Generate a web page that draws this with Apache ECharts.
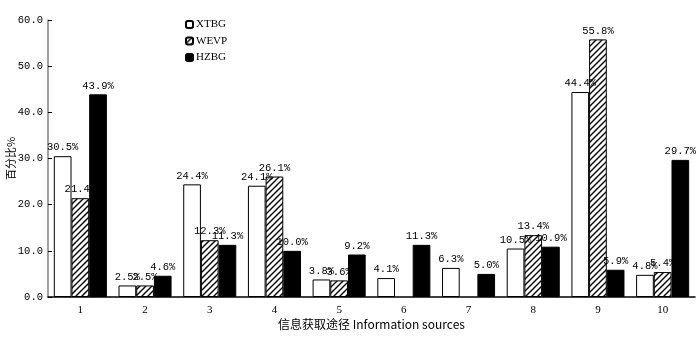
<!DOCTYPE html>
<html><head><meta charset="utf-8">
<script src="https://cdn.jsdelivr.net/npm/echarts@6/dist/echarts.min.js"></script>
<style>html,body{margin:0;padding:0;background:#fff}#c{width:700px;height:345px}</style>
</head><body><div id="c"></div>
<script>
const categories = ['1','2','3','4','5','6','7','8','9','10'];
const xtbg = [30.5, 2.5, 24.4, 24.1, 3.8, 4.1, 6.3, 10.5, 44.4, 4.8];
const wevp = [21.4, 2.5, 12.3, 26.1, 3.6, null, null, 13.4, 55.8, 5.4];
const hzbg = [43.9, 4.6, 11.3, 10.0, 9.2, 11.3, 5.0, 10.9, 5.9, 29.7];
const yTicks = [0, 10, 20, 30, 40, 50, 60];

const pc = document.createElement('canvas');
pc.width = 6; pc.height = 6;
const g = pc.getContext('2d');
g.fillStyle = '#fff'; g.fillRect(0,0,6,6);
g.strokeStyle = '#000'; g.lineWidth = 1.4;
g.beginPath();
g.moveTo(-1,7); g.lineTo(7,-1);
g.moveTo(-4,4); g.lineTo(4,-4);
g.moveTo(2,10); g.lineTo(10,2);
g.stroke();

const mono = 'Liberation Mono';
const lbl = {show:true, position:'top', distance:3, color:'#000', fontFamily:mono, fontSize:10.5,
  formatter: p => p.value == null ? '' : p.value.toFixed(1) + '%'};
const base = {type:'bar', barGap:'0%', barCategoryGap:'18%', label:lbl, animation:false};

const chart = echarts.init(document.getElementById('c'));
chart.setOption({
  backgroundColor:'#fff',
  grid:{left:48, right:5, top:20, bottom:48, containLabel:false, outerBoundsMode:'none'},
  legend:{orient:'vertical', left:185, top:19, padding:0, itemWidth:7, itemHeight:7, itemGap:5.5,
    textStyle:{fontFamily:'Liberation Serif', fontSize:11, color:'#000', padding:[0,0,0,-2]},
    data:['XTBG','WEVP','HZBG']},
  xAxis:{type:'category', data:categories,
    name:'信息获取途径 Information sources', nameLocation:'middle', nameGap:21, nameMoveOverlap:false,
    nameTextStyle:{fontFamily:'Noto Sans CJK SC', fontSize:12, color:'#000'},
    axisLine:{lineStyle:{color:'#000', width:1.5}},
    axisTick:{inside:true, length:4, lineStyle:{color:'#000'}},
    axisLabel:{fontFamily:'Liberation Serif', fontSize:11, color:'#000', margin:8}},
  yAxis:{type:'value', min:yTicks[0], max:yTicks[yTicks.length-1], interval:10,
    name:'百分比%', nameLocation:'middle', nameGap:32, nameRotate:90, nameMoveOverlap:false,
    nameTextStyle:{fontFamily:'Noto Sans CJK SC', fontSize:11, color:'#000'},
    splitLine:{show:false},
    axisLine:{show:true, lineStyle:{color:'#808080', width:1.5}},
    axisTick:{show:true, inside:true, length:4, lineStyle:{color:'#000'}},
    axisLabel:{fontFamily:mono, fontSize:10.5, color:'#000', margin:5, formatter:v=>v.toFixed(1)}},
  series:[
    Object.assign({}, base, {name:'XTBG', data:xtbg, itemStyle:{color:'#fff', borderColor:'#000', borderWidth:1}}),
    Object.assign({}, base, {name:'WEVP', data:wevp, itemStyle:{color:{image:pc, repeat:'repeat'}, borderColor:'#000', borderWidth:1}}),
    Object.assign({}, base, {name:'HZBG', data:hzbg, itemStyle:{color:'#000', borderColor:'#000', borderWidth:1}})
  ]
});
</script></body></html>
